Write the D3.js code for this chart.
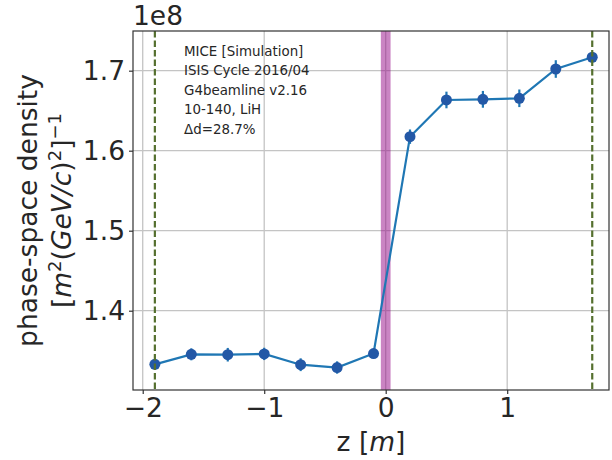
<!DOCTYPE html>
<html>
<head>
<meta charset="utf-8">
<script src="https://cdn.jsdelivr.net/npm/d3@7"></script>
<style>
  body { margin: 0; background: #fff; }
  text { font-family: "DejaVu Sans", sans-serif; fill: #262626; }
</style>
</head>
<body>
<svg id="chart"></svg>
<script>
// values in units of 1e8
const zPositions = [-1.9, -1.6, -1.3, -1.0, -0.7, -0.4, -0.1, 0.2, 0.5, 0.8, 1.1, 1.4, 1.7];
const density = [1.333, 1.3455, 1.345, 1.346, 1.3325, 1.329, 1.3465, 1.6175, 1.6634, 1.6642, 1.6655, 1.7021, 1.7168];
const densityErr = [0.006, 0.0075, 0.0085, 0.0077, 0.008, 0.0077, 0.006, 0.009, 0.0104, 0.0105, 0.011, 0.011, 0.005];
const xTicks = [-2, -1, 0, 1];
const yTicks = [1.4, 1.5, 1.6, 1.7];
const absorberRange = [-0.04, 0.04];
const trackerEdges = [-1.9, 1.7];
const infoLines = ["MICE [Simulation]", "ISIS Cycle 2016/04", "G4beamline v2.16", "10-140, LiH", "\u0394d=28.7%"];

const width = 612;
const height = 460;
const margin = { top: 31, right: 3, bottom: 70, left: 133 };

const svg = d3.select("#chart")
    .attr("width", width)
    .attr("height", height);

const x = d3.scaleLinear()
    .domain([-2.08, 1.838])
    .range([margin.left, width - margin.right]);

const y = d3.scaleLinear()
    .domain([1.3009, 1.7496])
    .range([height - margin.bottom, margin.top]);

// grid
svg.append("g")
    .selectAll("line")
    .data(xTicks)
    .enter().append("line")
    .attr("x1", d => x(d)).attr("x2", d => x(d))
    .attr("y1", margin.top).attr("y2", height - margin.bottom)
    .attr("stroke", "#c4c4c4").attr("stroke-width", 1.3);

svg.append("g")
    .selectAll("line")
    .data(yTicks)
    .enter().append("line")
    .attr("x1", margin.left).attr("x2", width - margin.right)
    .attr("y1", d => y(d)).attr("y2", d => y(d))
    .attr("stroke", "#c4c4c4").attr("stroke-width", 1.3);

// absorber band
svg.append("rect")
    .attr("x", x(absorberRange[0]))
    .attr("width", x(absorberRange[1]) - x(absorberRange[0]))
    .attr("y", margin.top)
    .attr("height", height - margin.bottom - margin.top)
    .attr("fill", "rgba(150,10,135,0.5)");

// info text
svg.append("g")
    .selectAll("text")
    .data(infoLines)
    .enter().append("text")
    .attr("x", 184)
    .attr("y", (d, i) => 55.5 + i * 19.5)
    .attr("font-size", 13.4)
    .text(d => d);

// data line
const line = d3.line()
    .x((d, i) => x(zPositions[i]))
    .y(d => y(d));

svg.append("path")
    .datum(density)
    .attr("fill", "none")
    .attr("stroke", "#1f77b4")
    .attr("stroke-width", 2.2)
    .attr("d", line);

// error bars
svg.append("g")
    .selectAll("line")
    .data(density)
    .enter().append("line")
    .attr("x1", (d, i) => x(zPositions[i]))
    .attr("x2", (d, i) => x(zPositions[i]))
    .attr("y1", (d, i) => y(d - densityErr[i]))
    .attr("y2", (d, i) => y(d + densityErr[i]))
    .attr("stroke", "#1f77b4")
    .attr("stroke-width", 2.2);

// markers
svg.append("g")
    .selectAll("circle")
    .data(density)
    .enter().append("circle")
    .attr("cx", (d, i) => x(zPositions[i]))
    .attr("cy", d => y(d))
    .attr("r", 5.5)
    .attr("fill", "#2358a6");

// tracker reference planes
svg.append("g")
    .selectAll("line")
    .data(trackerEdges)
    .enter().append("line")
    .attr("x1", d => x(d)).attr("x2", d => x(d))
    .attr("y1", margin.top).attr("y2", height - margin.bottom)
    .attr("stroke", "#55702f")
    .attr("stroke-width", 2.2)
    .attr("stroke-dasharray", "6.5,3");

// frame
svg.append("rect")
    .attr("x", margin.left)
    .attr("y", margin.top)
    .attr("width", width - margin.right - margin.left)
    .attr("height", height - margin.bottom - margin.top)
    .attr("fill", "none")
    .attr("stroke", "#333")
    .attr("stroke-width", 1.2);

// axes
const xAxis = svg.append("g")
    .attr("transform", `translate(0, ${height - margin.bottom})`)
    .call(d3.axisBottom(x).tickValues(xTicks).tickSize(4).tickPadding(4)
        .tickFormat(d => d3.format("d")(d).replace("-", "\u2212")));

const yAxis = svg.append("g")
    .attr("transform", `translate(${margin.left}, 0)`)
    .call(d3.axisLeft(y).tickValues(yTicks).tickSize(4).tickPadding(4)
        .tickFormat(d3.format(".1f")));

[xAxis, yAxis].forEach(g => {
    g.select(".domain").remove();
    g.selectAll(".tick line").attr("stroke", "#333").attr("stroke-width", 1.2);
    g.selectAll(".tick text")
        .attr("font-family", "DejaVu Sans")
        .attr("font-size", 26.5)
        .attr("fill", "#262626");
});

// offset text
svg.append("text")
    .attr("x", margin.left)
    .attr("y", 25)
    .attr("font-size", 26.5)
    .text("1e8");

// x label
const xl = svg.append("text")
    .attr("x", (margin.left + width - margin.right) / 2)
    .attr("y", 451)
    .attr("text-anchor", "middle")
    .attr("font-size", 26.5);
xl.append("tspan").text("z [");
xl.append("tspan").attr("font-style", "italic").text("m");
xl.append("tspan").text("]");

// y label
const yc = (margin.top + height - margin.bottom) / 2;
svg.append("text")
    .attr("transform", `translate(37, ${yc}) rotate(-90)`)
    .attr("text-anchor", "middle")
    .attr("font-size", 26.5)
    .text("phase-space density");

const yl2 = svg.append("text")
    .attr("transform", `translate(71, ${yc}) rotate(-90)`)
    .attr("text-anchor", "middle")
    .attr("font-size", 26.5);
yl2.append("tspan").text("[");
yl2.append("tspan").attr("font-style", "italic").text("m");
yl2.append("tspan").attr("font-size", 18).attr("dy", -10).text("2");
yl2.append("tspan").attr("dy", 10).text("(");
yl2.append("tspan").attr("font-style", "italic").text("GeV/c");
yl2.append("tspan").text(")");
yl2.append("tspan").attr("font-size", 18).attr("dy", -10).text("2");
yl2.append("tspan").attr("dy", 10).text("]");
yl2.append("tspan").attr("font-size", 18).attr("dy", -10).text("\u22121");
</script>
</body>
</html>
